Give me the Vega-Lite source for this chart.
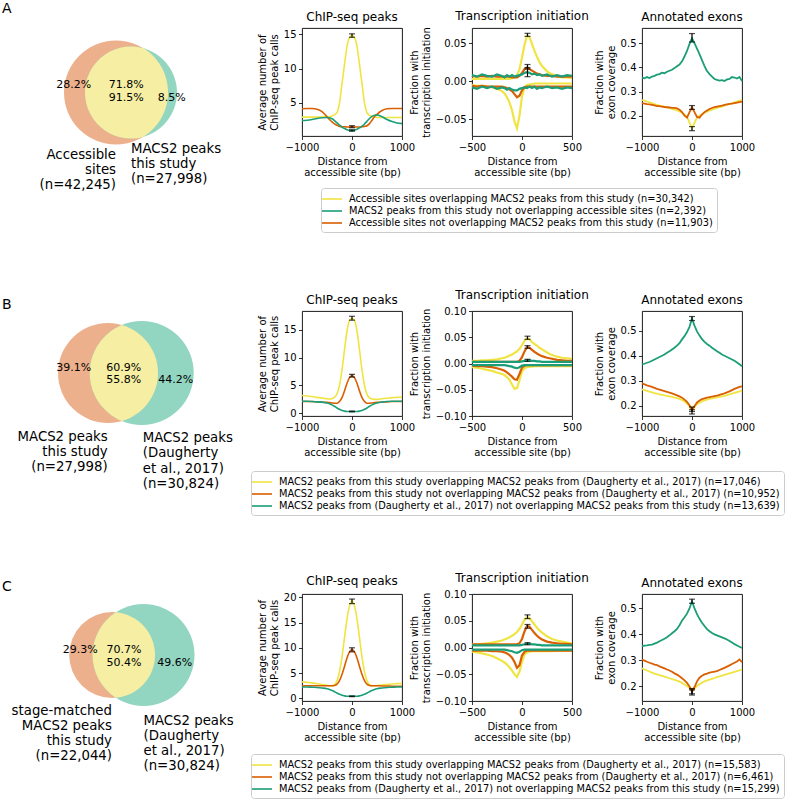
{
"$schema": "https://vega.github.io/schema/vega-lite/v6.json",
"padding": {"left": 1, "top": 1, "right": 0, "bottom": 0},
"background": "white",
"config": {
 "font": "DejaVu Sans",
 "view": {"stroke": "#000000", "strokeWidth": 0.9},
 "axis": {"domain": false, "grid": false, "tickCount": 20, "tickColor": "#000000", "tickSize": 3.5, "tickWidth": 0.8, "labelColor": "#000000", "labelFontSize": 10, "labelPadding": 2.5, "labelFlush": false, "labelOverlap": false, "titleColor": "#000000", "titleFontSize": 10, "titleFontWeight": "normal", "titlePadding": 4, "titleLineHeight": 11.5},
 "title": {"fontSize": 12, "fontWeight": "normal", "color": "#000000", "offset": 4, "frame": "group"},
 "legend": {"labelColor": "#000000"}
},
"datasets": {
 "A_lab": [
  {"k": "y", "label": "Accessible sites overlapping MACS2 peaks from this study (n=30,342)"},
  {"k": "t", "label": "MACS2 peaks from this study not overlapping accessible sites (n=2,392)"},
  {"k": "o", "label": "Accessible sites not overlapping MACS2 peaks from this study (n=11,903)"}
 ],
 "B_lab": [
  {"k": "y", "label": "MACS2 peaks from this study overlapping MACS2 peaks from (Daugherty et al., 2017) (n=17,046)"},
  {"k": "o", "label": "MACS2 peaks from this study not overlapping MACS2 peaks from (Daugherty et al., 2017) (n=10,952)"},
  {"k": "t", "label": "MACS2 peaks from (Daugherty et al., 2017) not overlapping MACS2 peaks from this study (n=13,639)"}
 ],
 "C_lab": [
  {"k": "y", "label": "MACS2 peaks from this study overlapping MACS2 peaks from (Daugherty et al., 2017) (n=15,583)"},
  {"k": "o", "label": "MACS2 peaks from this study not overlapping MACS2 peaks from (Daugherty et al., 2017) (n=6,461)"},
  {"k": "t", "label": "MACS2 peaks from (Daugherty et al., 2017) not overlapping MACS2 peaks from this study (n=15,299)"}
 ],
 "A_venn": [{"set": "L", "n": 42245, "x": 115, "y": 64.5}, {"set": "R", "n": 27998, "x": 130, "y": 64.5}],
 "B_venn": [{"set": "L", "n": 27998, "x": 107, "y": 62}, {"set": "R", "n": 30824, "x": 140.7, "y": 62}],
 "C_venn": [{"set": "L", "n": 22044, "x": 111.2, "y": 61}, {"set": "R", "n": 30824, "x": 142.5, "y": 61}],
 "A_vtext": [
  {"k": "pct", "x": 72.8, "y": 57.3, "t": "28.2%"},
  {"k": "pct", "x": 125.3, "y": 57.3, "t": "71.8%"},
  {"k": "pct", "x": 125.3, "y": 70.3, "t": "91.5%"},
  {"k": "pct", "x": 170.8, "y": 70.3, "t": "8.5%"},
  {"k": "L", "x": 115, "y": 120.3, "t": "Accessible\nsites\n(n=42,245)"},
  {"k": "R", "x": 130, "y": 114.3, "t": "MACS2 peaks\nthis study\n(n=27,998)"},
  {"k": "letter", "x": 1, "y": -15.1, "t": "A"}
 ],
 "B_vtext": [
  {"k": "pct", "x": 72.8, "y": 56.7, "t": "39.1%"},
  {"k": "pct", "x": 122.7, "y": 56.7, "t": "60.9%"},
  {"k": "pct", "x": 122.7, "y": 69, "t": "55.8%"},
  {"k": "pct", "x": 174.7, "y": 69, "t": "44.2%"},
  {"k": "L", "x": 106.7, "y": 118.6, "t": "MACS2 peaks\nthis study\n(n=27,998)"},
  {"k": "R", "x": 141.7, "y": 120, "t": "MACS2 peaks\n(Daugherty\net al., 2017)\n(n=30,824)"},
  {"k": "letter", "x": 1, "y": -2.1, "t": "B"}
 ],
 "C_vtext": [
  {"k": "pct", "x": 79.2, "y": 56.3, "t": "29.3%"},
  {"k": "pct", "x": 123, "y": 56.3, "t": "70.7%"},
  {"k": "pct", "x": 123, "y": 69.3, "t": "50.4%"},
  {"k": "pct", "x": 173.8, "y": 69.3, "t": "49.6%"},
  {"k": "L", "x": 111, "y": 110.3, "t": "stage-matched\nMACS2 peaks\nthis study\n(n=22,044)"},
  {"k": "R", "x": 142.5, "y": 120.3, "t": "MACS2 peaks\n(Daugherty\net al., 2017)\n(n=30,824)"},
  {"k": "letter", "x": 1, "y": -2.8, "t": "C"}
 ],
 "A_err": [
  {"p": "chip", "x": 0, "lo": 14.55, "hi": 15.05}, {"p": "chip", "x": 0, "lo": 1.4, "hi": 1.7}, {"p": "chip", "x": 0, "lo": 0.9, "hi": 1.1},
  {"p": "tss", "x": 55, "lo": 0.059, "hi": 0.063}, {"p": "tss", "x": 55, "lo": 0.016, "hi": 0.022}, {"p": "tss", "x": 55, "lo": 0.006, "hi": 0.018},
  {"p": "exon", "x": 0, "lo": 0.505, "hi": 0.54}, {"p": "exon", "x": 0, "lo": 0.226, "hi": 0.242}, {"p": "exon", "x": 0, "lo": 0.138, "hi": 0.155}
 ],
 "B_err": [
  {"p": "chip", "x": 0, "lo": 16.75, "hi": 17.45}, {"p": "chip", "x": 0, "lo": 6.5, "hi": 7.0}, {"p": "chip", "x": 0, "lo": 0.25, "hi": 0.38},
  {"p": "tss", "x": 55, "lo": 0.046, "hi": 0.052}, {"p": "tss", "x": 55, "lo": 0.029, "hi": 0.034}, {"p": "tss", "x": 55, "lo": 0.004, "hi": 0.008},
  {"p": "exon", "x": 0, "lo": 0.54, "hi": 0.556}, {"p": "exon", "x": 0, "lo": 0.178, "hi": 0.196}, {"p": "exon", "x": 0, "lo": 0.168, "hi": 0.185}
 ],
 "C_err": [
  {"p": "chip", "x": 0, "lo": 18.75, "hi": 19.65}, {"p": "chip", "x": 0, "lo": 9.2, "hi": 10.0}, {"p": "chip", "x": 0, "lo": 0.33, "hi": 0.48},
  {"p": "tss", "x": 55, "lo": 0.054, "hi": 0.061}, {"p": "tss", "x": 55, "lo": 0.036, "hi": 0.043}, {"p": "tss", "x": 55, "lo": 0.005, "hi": 0.009},
  {"p": "exon", "x": 0, "lo": 0.52, "hi": 0.536}, {"p": "exon", "x": 0, "lo": 0.165, "hi": 0.185}, {"p": "exon", "x": 0, "lo": 0.17, "hi": 0.19}
 ],
 "A_chip": [
  {"x": -1000, "y": 2.95, "o": 4.15, "t": 2.45}, {"x": -900, "y": 2.95, "o": 4.2, "t": 2.5}, {"x": -800, "y": 2.95, "o": 4.2, "t": 2.6},
  {"x": -700, "y": 2.95, "o": 4.1, "t": 2.75}, {"x": -600, "y": 2.95, "o": 3.75, "t": 2.85}, {"x": -500, "y": 3.0, "o": 3.0, "t": 2.9},
  {"x": -450, "y": 3.0, "o": 2.6, "t": 2.85}, {"x": -400, "y": 3.1, "o": 2.25, "t": 2.7}, {"x": -350, "y": 3.3, "o": 1.95, "t": 2.45},
  {"x": -300, "y": 3.6, "o": 1.75, "t": 2.1}, {"x": -250, "y": 5.0, "o": 1.6, "t": 1.8}, {"x": -200, "y": 7.8, "o": 1.55, "t": 1.5},
  {"x": -150, "y": 10.6, "o": 1.55, "t": 1.28}, {"x": -100, "y": 13.2, "o": 1.5, "t": 1.12}, {"x": -50, "y": 14.5, "o": 1.5, "t": 1.02},
  {"x": 0, "y": 14.8, "o": 1.55, "t": 1.0}, {"x": 50, "y": 14.5, "o": 1.5, "t": 1.05}, {"x": 100, "y": 13.2, "o": 1.5, "t": 1.18},
  {"x": 150, "y": 10.6, "o": 1.5, "t": 1.38}, {"x": 200, "y": 7.8, "o": 1.55, "t": 1.62}, {"x": 250, "y": 5.0, "o": 1.6, "t": 1.95},
  {"x": 300, "y": 3.6, "o": 1.7, "t": 2.35}, {"x": 350, "y": 3.2, "o": 2.0, "t": 2.75}, {"x": 400, "y": 3.05, "o": 2.5, "t": 3.05},
  {"x": 450, "y": 2.95, "o": 3.0, "t": 3.22}, {"x": 500, "y": 2.9, "o": 3.35, "t": 3.25}, {"x": 600, "y": 2.9, "o": 3.9, "t": 3.0},
  {"x": 700, "y": 2.9, "o": 4.15, "t": 2.6}, {"x": 800, "y": 2.9, "o": 4.2, "t": 2.3}, {"x": 900, "y": 2.9, "o": 4.2, "t": 2.1},
  {"x": 1000, "y": 2.9, "o": 4.2, "t": 2.0}
 ],
 "B_chip": [
  {"x": -1000, "y": 3.2, "o": 2.1, "t": 2.15}, {"x": -900, "y": 3.1, "o": 2.1, "t": 2.15}, {"x": -800, "y": 3.0, "o": 2.1, "t": 2.1},
  {"x": -700, "y": 2.85, "o": 2.05, "t": 2.05}, {"x": -600, "y": 2.75, "o": 2.0, "t": 2.0}, {"x": -500, "y": 2.6, "o": 1.95, "t": 1.85},
  {"x": -450, "y": 2.55, "o": 1.9, "t": 1.7}, {"x": -400, "y": 2.6, "o": 1.85, "t": 1.5}, {"x": -350, "y": 2.9, "o": 1.8, "t": 1.25},
  {"x": -300, "y": 3.5, "o": 1.8, "t": 0.95}, {"x": -250, "y": 5.0, "o": 2.1, "t": 0.7}, {"x": -200, "y": 7.8, "o": 2.8, "t": 0.5},
  {"x": -150, "y": 11.4, "o": 4.0, "t": 0.38}, {"x": -100, "y": 14.8, "o": 5.4, "t": 0.32}, {"x": -50, "y": 16.7, "o": 6.4, "t": 0.3},
  {"x": 0, "y": 17.1, "o": 6.75, "t": 0.3}, {"x": 50, "y": 16.7, "o": 6.4, "t": 0.3}, {"x": 100, "y": 14.8, "o": 5.4, "t": 0.32},
  {"x": 150, "y": 11.4, "o": 4.0, "t": 0.38}, {"x": 200, "y": 7.8, "o": 2.8, "t": 0.5}, {"x": 250, "y": 5.0, "o": 2.1, "t": 0.7},
  {"x": 300, "y": 3.4, "o": 1.8, "t": 0.95}, {"x": 350, "y": 2.75, "o": 1.8, "t": 1.25}, {"x": 400, "y": 2.55, "o": 1.85, "t": 1.5},
  {"x": 450, "y": 2.5, "o": 1.9, "t": 1.7}, {"x": 500, "y": 2.5, "o": 1.95, "t": 1.85}, {"x": 600, "y": 2.6, "o": 2.0, "t": 2.0},
  {"x": 700, "y": 2.7, "o": 2.05, "t": 2.1}, {"x": 800, "y": 2.8, "o": 2.1, "t": 2.15}, {"x": 900, "y": 2.85, "o": 2.1, "t": 2.15},
  {"x": 1000, "y": 2.9, "o": 2.1, "t": 2.15}
 ],
 "C_chip": [
  {"x": -1000, "y": 3.25, "o": 2.5, "t": 2.25}, {"x": -900, "y": 3.15, "o": 2.5, "t": 2.25}, {"x": -800, "y": 3.05, "o": 2.5, "t": 2.2},
  {"x": -700, "y": 2.9, "o": 2.5, "t": 2.15}, {"x": -600, "y": 2.75, "o": 2.5, "t": 2.05}, {"x": -500, "y": 2.6, "o": 2.5, "t": 1.9},
  {"x": -450, "y": 2.5, "o": 2.5, "t": 1.75}, {"x": -400, "y": 2.5, "o": 2.5, "t": 1.55}, {"x": -350, "y": 2.7, "o": 2.55, "t": 1.3},
  {"x": -300, "y": 3.5, "o": 2.8, "t": 1.05}, {"x": -250, "y": 5.3, "o": 3.5, "t": 0.8}, {"x": -200, "y": 8.2, "o": 4.7, "t": 0.6},
  {"x": -150, "y": 12.0, "o": 6.3, "t": 0.48}, {"x": -100, "y": 15.7, "o": 8.0, "t": 0.42}, {"x": -50, "y": 18.3, "o": 9.2, "t": 0.4},
  {"x": 0, "y": 19.2, "o": 9.6, "t": 0.4}, {"x": 50, "y": 18.3, "o": 9.2, "t": 0.4}, {"x": 100, "y": 15.7, "o": 8.0, "t": 0.42},
  {"x": 150, "y": 12.0, "o": 6.3, "t": 0.48}, {"x": 200, "y": 8.2, "o": 4.7, "t": 0.6}, {"x": 250, "y": 5.3, "o": 3.5, "t": 0.8},
  {"x": 300, "y": 3.5, "o": 2.8, "t": 1.05}, {"x": 350, "y": 2.7, "o": 2.55, "t": 1.3}, {"x": 400, "y": 2.5, "o": 2.5, "t": 1.55},
  {"x": 450, "y": 2.5, "o": 2.5, "t": 1.75}, {"x": 500, "y": 2.55, "o": 2.5, "t": 1.9}, {"x": 600, "y": 2.65, "o": 2.45, "t": 2.05},
  {"x": 700, "y": 2.75, "o": 2.45, "t": 2.15}, {"x": 800, "y": 2.85, "o": 2.4, "t": 2.2}, {"x": 900, "y": 2.9, "o": 2.4, "t": 2.25},
  {"x": 1000, "y": 2.95, "o": 2.4, "t": 2.25}
 ],
 "A_tss": [
  {"x": -500, "st": "+", "y": 0.003, "o": 0.007, "t": 0.008}, {"x": -450, "st": "+", "y": 0.003, "o": 0.006, "t": 0.006},
  {"x": -400, "st": "+", "y": 0.003, "o": 0.007, "t": 0.009}, {"x": -350, "st": "+", "y": 0.003, "o": 0.006, "t": 0.007},
  {"x": -300, "st": "+", "y": 0.003, "o": 0.007, "t": 0.006}, {"x": -250, "st": "+", "y": 0.003, "o": 0.006, "t": 0.009},
  {"x": -200, "st": "+", "y": 0.003, "o": 0.006, "t": 0.007}, {"x": -175, "st": "+", "y": 0.003, "o": 0.006, "t": 0.005},
  {"x": -150, "st": "+", "y": 0.003, "o": 0.006, "t": 0.008}, {"x": -125, "st": "+", "y": 0.003, "o": 0.006, "t": 0.006},
  {"x": -100, "st": "+", "y": 0.004, "o": 0.005, "t": 0.008}, {"x": -75, "st": "+", "y": 0.005, "o": 0.005, "t": 0.006},
  {"x": -50, "st": "+", "y": 0.008, "o": 0.005, "t": 0.007}, {"x": -25, "st": "+", "y": 0.016, "o": 0.007, "t": 0.008},
  {"x": 0, "st": "+", "y": 0.031, "o": 0.011, "t": 0.009}, {"x": 25, "st": "+", "y": 0.048, "o": 0.016, "t": 0.011},
  {"x": 50, "st": "+", "y": 0.06, "o": 0.018, "t": 0.012}, {"x": 75, "st": "+", "y": 0.058, "o": 0.016, "t": 0.011},
  {"x": 100, "st": "+", "y": 0.049, "o": 0.014, "t": 0.009}, {"x": 125, "st": "+", "y": 0.04, "o": 0.012, "t": 0.01},
  {"x": 150, "st": "+", "y": 0.032, "o": 0.01, "t": 0.008}, {"x": 175, "st": "+", "y": 0.025, "o": 0.009, "t": 0.009},
  {"x": 200, "st": "+", "y": 0.02, "o": 0.008, "t": 0.007}, {"x": 250, "st": "+", "y": 0.013, "o": 0.007, "t": 0.009},
  {"x": 300, "st": "+", "y": 0.009, "o": 0.007, "t": 0.006}, {"x": 350, "st": "+", "y": 0.007, "o": 0.006, "t": 0.008},
  {"x": 400, "st": "+", "y": 0.005, "o": 0.006, "t": 0.006}, {"x": 450, "st": "+", "y": 0.005, "o": 0.006, "t": 0.008},
  {"x": 500, "st": "+", "y": 0.004, "o": 0.006, "t": 0.007},
  {"x": -500, "st": "-", "y": -0.005, "o": -0.006, "t": -0.008}, {"x": -450, "st": "-", "y": -0.006, "o": -0.007, "t": -0.01},
  {"x": -400, "st": "-", "y": -0.006, "o": -0.006, "t": -0.007}, {"x": -350, "st": "-", "y": -0.007, "o": -0.007, "t": -0.009},
  {"x": -300, "st": "-", "y": -0.008, "o": -0.007, "t": -0.007}, {"x": -250, "st": "-", "y": -0.01, "o": -0.007, "t": -0.01},
  {"x": -200, "st": "-", "y": -0.013, "o": -0.007, "t": -0.008}, {"x": -175, "st": "-", "y": -0.016, "o": -0.008, "t": -0.009},
  {"x": -150, "st": "-", "y": -0.021, "o": -0.009, "t": -0.011}, {"x": -125, "st": "-", "y": -0.028, "o": -0.011, "t": -0.009},
  {"x": -100, "st": "-", "y": -0.038, "o": -0.013, "t": -0.011}, {"x": -75, "st": "-", "y": -0.053, "o": -0.017, "t": -0.012},
  {"x": -50, "st": "-", "y": -0.062, "o": -0.021, "t": -0.012}, {"x": -25, "st": "-", "y": -0.045, "o": -0.019, "t": -0.01},
  {"x": 0, "st": "-", "y": -0.02, "o": -0.012, "t": -0.009}, {"x": 25, "st": "-", "y": -0.008, "o": -0.008, "t": -0.008},
  {"x": 50, "st": "-", "y": -0.005, "o": -0.007, "t": -0.009}, {"x": 75, "st": "-", "y": -0.004, "o": -0.007, "t": -0.007},
  {"x": 100, "st": "-", "y": -0.004, "o": -0.007, "t": -0.009}, {"x": 125, "st": "-", "y": -0.003, "o": -0.007, "t": -0.007},
  {"x": 150, "st": "-", "y": -0.003, "o": -0.007, "t": -0.01}, {"x": 175, "st": "-", "y": -0.003, "o": -0.007, "t": -0.008},
  {"x": 200, "st": "-", "y": -0.003, "o": -0.007, "t": -0.009}, {"x": 250, "st": "-", "y": -0.003, "o": -0.007, "t": -0.007},
  {"x": 300, "st": "-", "y": -0.003, "o": -0.007, "t": -0.009}, {"x": 350, "st": "-", "y": -0.003, "o": -0.007, "t": -0.008},
  {"x": 400, "st": "-", "y": -0.003, "o": -0.007, "t": -0.01}, {"x": 450, "st": "-", "y": -0.003, "o": -0.007, "t": -0.008},
  {"x": 500, "st": "-", "y": -0.003, "o": -0.007, "t": -0.009}
 ],
 "B_tss": [
  {"x": -500, "st": "+", "y": 0.005, "o": 0.003, "t": 0.003}, {"x": -450, "st": "+", "y": 0.005, "o": 0.003, "t": 0.003},
  {"x": -400, "st": "+", "y": 0.006, "o": 0.003, "t": 0.003}, {"x": -350, "st": "+", "y": 0.006, "o": 0.003, "t": 0.003},
  {"x": -300, "st": "+", "y": 0.007, "o": 0.003, "t": 0.003}, {"x": -250, "st": "+", "y": 0.008, "o": 0.003, "t": 0.003},
  {"x": -200, "st": "+", "y": 0.01, "o": 0.003, "t": 0.003}, {"x": -175, "st": "+", "y": 0.011, "o": 0.003, "t": 0.003},
  {"x": -150, "st": "+", "y": 0.013, "o": 0.003, "t": 0.003}, {"x": -125, "st": "+", "y": 0.015, "o": 0.003, "t": 0.003},
  {"x": -100, "st": "+", "y": 0.017, "o": 0.003, "t": 0.003}, {"x": -75, "st": "+", "y": 0.02, "o": 0.003, "t": 0.003},
  {"x": -50, "st": "+", "y": 0.023, "o": 0.003, "t": 0.003}, {"x": -25, "st": "+", "y": 0.028, "o": 0.005, "t": 0.003},
  {"x": 0, "st": "+", "y": 0.035, "o": 0.012, "t": 0.004}, {"x": 25, "st": "+", "y": 0.043, "o": 0.023, "t": 0.005},
  {"x": 50, "st": "+", "y": 0.048, "o": 0.031, "t": 0.006}, {"x": 75, "st": "+", "y": 0.046, "o": 0.03, "t": 0.006},
  {"x": 100, "st": "+", "y": 0.041, "o": 0.026, "t": 0.005}, {"x": 125, "st": "+", "y": 0.037, "o": 0.022, "t": 0.005},
  {"x": 150, "st": "+", "y": 0.034, "o": 0.019, "t": 0.004}, {"x": 175, "st": "+", "y": 0.03, "o": 0.016, "t": 0.004},
  {"x": 200, "st": "+", "y": 0.027, "o": 0.014, "t": 0.003}, {"x": 250, "st": "+", "y": 0.021, "o": 0.011, "t": 0.003},
  {"x": 300, "st": "+", "y": 0.016, "o": 0.009, "t": 0.003}, {"x": 350, "st": "+", "y": 0.013, "o": 0.007, "t": 0.003},
  {"x": 400, "st": "+", "y": 0.011, "o": 0.006, "t": 0.003}, {"x": 450, "st": "+", "y": 0.01, "o": 0.005, "t": 0.003},
  {"x": 500, "st": "+", "y": 0.009, "o": 0.005, "t": 0.003},
  {"x": -500, "st": "-", "y": -0.007, "o": -0.004, "t": -0.003}, {"x": -450, "st": "-", "y": -0.008, "o": -0.005, "t": -0.003},
  {"x": -400, "st": "-", "y": -0.01, "o": -0.005, "t": -0.003}, {"x": -350, "st": "-", "y": -0.012, "o": -0.006, "t": -0.003},
  {"x": -300, "st": "-", "y": -0.014, "o": -0.007, "t": -0.003}, {"x": -250, "st": "-", "y": -0.017, "o": -0.009, "t": -0.003},
  {"x": -200, "st": "-", "y": -0.02, "o": -0.012, "t": -0.003}, {"x": -175, "st": "-", "y": -0.022, "o": -0.014, "t": -0.003},
  {"x": -150, "st": "-", "y": -0.026, "o": -0.017, "t": -0.004}, {"x": -125, "st": "-", "y": -0.031, "o": -0.021, "t": -0.005},
  {"x": -100, "st": "-", "y": -0.04, "o": -0.025, "t": -0.006}, {"x": -75, "st": "-", "y": -0.048, "o": -0.03, "t": -0.008},
  {"x": -50, "st": "-", "y": -0.047, "o": -0.031, "t": -0.009}, {"x": -25, "st": "-", "y": -0.032, "o": -0.02, "t": -0.007},
  {"x": 0, "st": "-", "y": -0.015, "o": -0.008, "t": -0.004}, {"x": 25, "st": "-", "y": -0.009, "o": -0.004, "t": -0.003},
  {"x": 50, "st": "-", "y": -0.007, "o": -0.003, "t": -0.003}, {"x": 75, "st": "-", "y": -0.006, "o": -0.003, "t": -0.003},
  {"x": 100, "st": "-", "y": -0.006, "o": -0.003, "t": -0.003}, {"x": 125, "st": "-", "y": -0.005, "o": -0.003, "t": -0.003},
  {"x": 150, "st": "-", "y": -0.005, "o": -0.003, "t": -0.003}, {"x": 175, "st": "-", "y": -0.005, "o": -0.003, "t": -0.003},
  {"x": 200, "st": "-", "y": -0.005, "o": -0.003, "t": -0.003}, {"x": 250, "st": "-", "y": -0.005, "o": -0.003, "t": -0.003},
  {"x": 300, "st": "-", "y": -0.005, "o": -0.003, "t": -0.003}, {"x": 350, "st": "-", "y": -0.005, "o": -0.003, "t": -0.003},
  {"x": 400, "st": "-", "y": -0.005, "o": -0.003, "t": -0.003}, {"x": 450, "st": "-", "y": -0.005, "o": -0.003, "t": -0.003},
  {"x": 500, "st": "-", "y": -0.005, "o": -0.003, "t": -0.003}
 ],
 "C_tss": [
  {"x": -500, "st": "+", "y": 0.006, "o": 0.006, "t": 0.004}, {"x": -450, "st": "+", "y": 0.006, "o": 0.006, "t": 0.004},
  {"x": -400, "st": "+", "y": 0.007, "o": 0.006, "t": 0.004}, {"x": -350, "st": "+", "y": 0.008, "o": 0.006, "t": 0.004},
  {"x": -300, "st": "+", "y": 0.009, "o": 0.006, "t": 0.004}, {"x": -250, "st": "+", "y": 0.011, "o": 0.006, "t": 0.004},
  {"x": -200, "st": "+", "y": 0.013, "o": 0.006, "t": 0.004}, {"x": -175, "st": "+", "y": 0.015, "o": 0.006, "t": 0.004},
  {"x": -150, "st": "+", "y": 0.017, "o": 0.006, "t": 0.004}, {"x": -125, "st": "+", "y": 0.019, "o": 0.006, "t": 0.004},
  {"x": -100, "st": "+", "y": 0.022, "o": 0.006, "t": 0.004}, {"x": -75, "st": "+", "y": 0.025, "o": 0.006, "t": 0.004},
  {"x": -50, "st": "+", "y": 0.029, "o": 0.006, "t": 0.004}, {"x": -25, "st": "+", "y": 0.035, "o": 0.008, "t": 0.004},
  {"x": 0, "st": "+", "y": 0.043, "o": 0.016, "t": 0.005}, {"x": 25, "st": "+", "y": 0.052, "o": 0.03, "t": 0.006},
  {"x": 50, "st": "+", "y": 0.057, "o": 0.04, "t": 0.007}, {"x": 75, "st": "+", "y": 0.055, "o": 0.039, "t": 0.007},
  {"x": 100, "st": "+", "y": 0.049, "o": 0.033, "t": 0.006}, {"x": 125, "st": "+", "y": 0.043, "o": 0.027, "t": 0.006},
  {"x": 150, "st": "+", "y": 0.037, "o": 0.022, "t": 0.005}, {"x": 175, "st": "+", "y": 0.032, "o": 0.018, "t": 0.005},
  {"x": 200, "st": "+", "y": 0.028, "o": 0.015, "t": 0.004}, {"x": 250, "st": "+", "y": 0.021, "o": 0.011, "t": 0.004},
  {"x": 300, "st": "+", "y": 0.016, "o": 0.009, "t": 0.004}, {"x": 350, "st": "+", "y": 0.013, "o": 0.008, "t": 0.004},
  {"x": 400, "st": "+", "y": 0.011, "o": 0.007, "t": 0.004}, {"x": 450, "st": "+", "y": 0.009, "o": 0.007, "t": 0.004},
  {"x": 500, "st": "+", "y": 0.008, "o": 0.006, "t": 0.004},
  {"x": -500, "st": "-", "y": -0.008, "o": -0.006, "t": -0.004}, {"x": -450, "st": "-", "y": -0.009, "o": -0.006, "t": -0.004},
  {"x": -400, "st": "-", "y": -0.011, "o": -0.006, "t": -0.004}, {"x": -350, "st": "-", "y": -0.013, "o": -0.006, "t": -0.004},
  {"x": -300, "st": "-", "y": -0.016, "o": -0.007, "t": -0.004}, {"x": -250, "st": "-", "y": -0.02, "o": -0.007, "t": -0.004},
  {"x": -200, "st": "-", "y": -0.025, "o": -0.008, "t": -0.004}, {"x": -175, "st": "-", "y": -0.028, "o": -0.009, "t": -0.004},
  {"x": -150, "st": "-", "y": -0.032, "o": -0.011, "t": -0.005}, {"x": -125, "st": "-", "y": -0.037, "o": -0.014, "t": -0.006},
  {"x": -100, "st": "-", "y": -0.043, "o": -0.019, "t": -0.007}, {"x": -75, "st": "-", "y": -0.05, "o": -0.027, "t": -0.009},
  {"x": -50, "st": "-", "y": -0.055, "o": -0.038, "t": -0.01}, {"x": -25, "st": "-", "y": -0.045, "o": -0.033, "t": -0.008},
  {"x": 0, "st": "-", "y": -0.027, "o": -0.015, "t": -0.005}, {"x": 25, "st": "-", "y": -0.013, "o": -0.008, "t": -0.004},
  {"x": 50, "st": "-", "y": -0.009, "o": -0.006, "t": -0.004}, {"x": 75, "st": "-", "y": -0.008, "o": -0.006, "t": -0.004},
  {"x": 100, "st": "-", "y": -0.007, "o": -0.006, "t": -0.004}, {"x": 125, "st": "-", "y": -0.007, "o": -0.006, "t": -0.004},
  {"x": 150, "st": "-", "y": -0.007, "o": -0.006, "t": -0.004}, {"x": 175, "st": "-", "y": -0.007, "o": -0.006, "t": -0.004},
  {"x": 200, "st": "-", "y": -0.007, "o": -0.006, "t": -0.004}, {"x": 250, "st": "-", "y": -0.007, "o": -0.006, "t": -0.004},
  {"x": 300, "st": "-", "y": -0.007, "o": -0.006, "t": -0.004}, {"x": 350, "st": "-", "y": -0.006, "o": -0.006, "t": -0.004},
  {"x": 400, "st": "-", "y": -0.006, "o": -0.006, "t": -0.004}, {"x": 450, "st": "-", "y": -0.006, "o": -0.006, "t": -0.004},
  {"x": 500, "st": "-", "y": -0.006, "o": -0.006, "t": -0.004}
 ],
 "A_exon": [
  {"x": -1000, "y": 0.265, "o": 0.252, "t": 0.358}, {"x": -950, "y": 0.262, "o": 0.25, "t": 0.355}, {"x": -900, "y": 0.258, "o": 0.248, "t": 0.36},
  {"x": -850, "y": 0.255, "o": 0.247, "t": 0.356}, {"x": -800, "y": 0.252, "o": 0.245, "t": 0.362}, {"x": -750, "y": 0.248, "o": 0.243, "t": 0.365},
  {"x": -700, "y": 0.245, "o": 0.24, "t": 0.37}, {"x": -650, "y": 0.242, "o": 0.24, "t": 0.372}, {"x": -600, "y": 0.24, "o": 0.238, "t": 0.378},
  {"x": -550, "y": 0.237, "o": 0.236, "t": 0.376}, {"x": -500, "y": 0.234, "o": 0.235, "t": 0.382}, {"x": -450, "y": 0.232, "o": 0.234, "t": 0.386},
  {"x": -400, "y": 0.228, "o": 0.232, "t": 0.39}, {"x": -350, "y": 0.225, "o": 0.232, "t": 0.397}, {"x": -300, "y": 0.222, "o": 0.23, "t": 0.405},
  {"x": -250, "y": 0.218, "o": 0.225, "t": 0.412}, {"x": -200, "y": 0.212, "o": 0.215, "t": 0.425}, {"x": -150, "y": 0.205, "o": 0.2, "t": 0.445},
  {"x": -100, "y": 0.195, "o": 0.192, "t": 0.468}, {"x": -50, "y": 0.172, "o": 0.215, "t": 0.497}, {"x": 0, "y": 0.147, "o": 0.234, "t": 0.52},
  {"x": 50, "y": 0.17, "o": 0.215, "t": 0.5}, {"x": 100, "y": 0.192, "o": 0.195, "t": 0.478}, {"x": 150, "y": 0.2, "o": 0.192, "t": 0.455},
  {"x": 200, "y": 0.207, "o": 0.205, "t": 0.43}, {"x": 250, "y": 0.212, "o": 0.215, "t": 0.405}, {"x": 300, "y": 0.217, "o": 0.222, "t": 0.385},
  {"x": 350, "y": 0.222, "o": 0.228, "t": 0.372}, {"x": 400, "y": 0.225, "o": 0.232, "t": 0.362}, {"x": 450, "y": 0.228, "o": 0.236, "t": 0.352},
  {"x": 500, "y": 0.232, "o": 0.238, "t": 0.348}, {"x": 550, "y": 0.235, "o": 0.24, "t": 0.345}, {"x": 600, "y": 0.238, "o": 0.242, "t": 0.347},
  {"x": 650, "y": 0.242, "o": 0.245, "t": 0.344}, {"x": 700, "y": 0.245, "o": 0.247, "t": 0.35}, {"x": 750, "y": 0.248, "o": 0.249, "t": 0.352},
  {"x": 800, "y": 0.252, "o": 0.25, "t": 0.36}, {"x": 850, "y": 0.255, "o": 0.252, "t": 0.358}, {"x": 900, "y": 0.258, "o": 0.254, "t": 0.354},
  {"x": 950, "y": 0.262, "o": 0.256, "t": 0.36}, {"x": 1000, "y": 0.265, "o": 0.258, "t": 0.343}
 ],
 "B_exon": [
  {"x": -1000, "y": 0.266, "o": 0.29, "t": 0.365}, {"x": -950, "y": 0.263, "o": 0.286, "t": 0.368}, {"x": -900, "y": 0.26, "o": 0.282, "t": 0.372},
  {"x": -850, "y": 0.257, "o": 0.279, "t": 0.375}, {"x": -800, "y": 0.254, "o": 0.276, "t": 0.38}, {"x": -750, "y": 0.251, "o": 0.272, "t": 0.385},
  {"x": -700, "y": 0.249, "o": 0.268, "t": 0.39}, {"x": -650, "y": 0.246, "o": 0.265, "t": 0.395}, {"x": -600, "y": 0.244, "o": 0.262, "t": 0.4},
  {"x": -550, "y": 0.242, "o": 0.259, "t": 0.405}, {"x": -500, "y": 0.24, "o": 0.256, "t": 0.412}, {"x": -450, "y": 0.238, "o": 0.253, "t": 0.418},
  {"x": -400, "y": 0.236, "o": 0.25, "t": 0.425}, {"x": -350, "y": 0.233, "o": 0.246, "t": 0.432}, {"x": -300, "y": 0.231, "o": 0.242, "t": 0.44},
  {"x": -250, "y": 0.228, "o": 0.238, "t": 0.45}, {"x": -200, "y": 0.224, "o": 0.233, "t": 0.465}, {"x": -150, "y": 0.218, "o": 0.225, "t": 0.478},
  {"x": -100, "y": 0.21, "o": 0.216, "t": 0.494}, {"x": -50, "y": 0.198, "o": 0.203, "t": 0.515}, {"x": 0, "y": 0.18, "o": 0.185, "t": 0.548},
  {"x": 50, "y": 0.195, "o": 0.2, "t": 0.52}, {"x": 100, "y": 0.207, "o": 0.214, "t": 0.497}, {"x": 150, "y": 0.213, "o": 0.222, "t": 0.48},
  {"x": 200, "y": 0.218, "o": 0.227, "t": 0.466}, {"x": 250, "y": 0.222, "o": 0.23, "t": 0.455}, {"x": 300, "y": 0.225, "o": 0.233, "t": 0.447},
  {"x": 350, "y": 0.228, "o": 0.235, "t": 0.44}, {"x": 400, "y": 0.23, "o": 0.237, "t": 0.432}, {"x": 450, "y": 0.232, "o": 0.239, "t": 0.425},
  {"x": 500, "y": 0.234, "o": 0.241, "t": 0.418}, {"x": 550, "y": 0.236, "o": 0.244, "t": 0.412}, {"x": 600, "y": 0.238, "o": 0.247, "t": 0.405},
  {"x": 650, "y": 0.24, "o": 0.25, "t": 0.4}, {"x": 700, "y": 0.243, "o": 0.254, "t": 0.395}, {"x": 750, "y": 0.246, "o": 0.258, "t": 0.39},
  {"x": 800, "y": 0.249, "o": 0.263, "t": 0.385}, {"x": 850, "y": 0.252, "o": 0.268, "t": 0.38}, {"x": 900, "y": 0.255, "o": 0.272, "t": 0.373},
  {"x": 950, "y": 0.258, "o": 0.276, "t": 0.366}, {"x": 1000, "y": 0.262, "o": 0.278, "t": 0.358}
 ],
 "C_exon": [
  {"x": -1000, "y": 0.268, "o": 0.302, "t": 0.354}, {"x": -950, "y": 0.264, "o": 0.298, "t": 0.356}, {"x": -900, "y": 0.26, "o": 0.294, "t": 0.357},
  {"x": -850, "y": 0.256, "o": 0.29, "t": 0.359}, {"x": -800, "y": 0.252, "o": 0.287, "t": 0.36}, {"x": -750, "y": 0.248, "o": 0.283, "t": 0.364},
  {"x": -700, "y": 0.245, "o": 0.281, "t": 0.368}, {"x": -650, "y": 0.242, "o": 0.276, "t": 0.373}, {"x": -600, "y": 0.239, "o": 0.272, "t": 0.378},
  {"x": -550, "y": 0.236, "o": 0.268, "t": 0.383}, {"x": -500, "y": 0.233, "o": 0.264, "t": 0.389}, {"x": -450, "y": 0.23, "o": 0.26, "t": 0.396},
  {"x": -400, "y": 0.227, "o": 0.255, "t": 0.404}, {"x": -350, "y": 0.224, "o": 0.249, "t": 0.412}, {"x": -300, "y": 0.221, "o": 0.244, "t": 0.421},
  {"x": -250, "y": 0.217, "o": 0.238, "t": 0.435}, {"x": -200, "y": 0.212, "o": 0.23, "t": 0.453}, {"x": -150, "y": 0.206, "o": 0.222, "t": 0.466},
  {"x": -100, "y": 0.2, "o": 0.212, "t": 0.48}, {"x": -50, "y": 0.192, "o": 0.198, "t": 0.5}, {"x": 0, "y": 0.18, "o": 0.178, "t": 0.528},
  {"x": 50, "y": 0.19, "o": 0.196, "t": 0.5}, {"x": 100, "y": 0.2, "o": 0.218, "t": 0.478}, {"x": 150, "y": 0.207, "o": 0.232, "t": 0.46},
  {"x": 200, "y": 0.213, "o": 0.24, "t": 0.445}, {"x": 250, "y": 0.218, "o": 0.245, "t": 0.432}, {"x": 300, "y": 0.222, "o": 0.248, "t": 0.42},
  {"x": 350, "y": 0.225, "o": 0.252, "t": 0.412}, {"x": 400, "y": 0.228, "o": 0.254, "t": 0.405}, {"x": 450, "y": 0.231, "o": 0.256, "t": 0.4},
  {"x": 500, "y": 0.234, "o": 0.258, "t": 0.396}, {"x": 550, "y": 0.237, "o": 0.262, "t": 0.392}, {"x": 600, "y": 0.24, "o": 0.266, "t": 0.388},
  {"x": 650, "y": 0.243, "o": 0.27, "t": 0.384}, {"x": 700, "y": 0.246, "o": 0.275, "t": 0.38}, {"x": 750, "y": 0.249, "o": 0.28, "t": 0.374},
  {"x": 800, "y": 0.252, "o": 0.285, "t": 0.368}, {"x": 850, "y": 0.255, "o": 0.29, "t": 0.362}, {"x": 900, "y": 0.258, "o": 0.295, "t": 0.357},
  {"x": 950, "y": 0.261, "o": 0.303, "t": 0.352}, {"x": 1000, "y": 0.264, "o": 0.292, "t": 0.347}
 ]
},
"vconcat": [
 {
  "hconcat": [
   {
    "width": 231, "height": 108, "view": {"stroke": null},
    "encoding": {
     "x": {"field": "x", "type": "quantitative", "scale": {"domain": [0, 231], "nice": false, "zero": false}, "axis": null},
     "y": {"field": "y", "type": "quantitative", "scale": {"domain": [0, 108], "reverse": true, "nice": false, "zero": false}, "axis": null}
    },
    "layer": [
     {"data": {"name": "A_venn"}, "transform": [{"filter": "datum.set == 'L'"}], "mark": {"type": "point", "shape": "circle", "filled": true, "opacity": 1, "color": "#EDB08C", "strokeWidth": 0}, "encoding": {"size": {"field": "n", "type": "quantitative", "scale": {"domain": [27998, 42245], "range": [8464, 10816], "zero": false}, "legend": null}}},
     {"data": {"name": "A_venn"}, "transform": [{"filter": "datum.set == 'R'"}], "mark": {"type": "point", "shape": "circle", "filled": true, "opacity": 1, "color": "#92D5C1", "strokeWidth": 0}, "encoding": {"size": {"field": "n", "type": "quantitative", "scale": {"domain": [27998, 42245], "range": [8464, 10816], "zero": false}, "legend": null}}},
     {"data": {"name": "A_venn"}, "transform": [{"filter": "datum.set == 'L'"}], "mark": {"type": "point", "shape": "M0.521,-0.854 A1,1,0,0,1,0.521,0.854 A0.885,0.885,0,1,1,0.521,-0.854 Z", "filled": true, "opacity": 1, "color": "#F5EEA3", "strokeWidth": 0}, "encoding": {"size": {"field": "n", "type": "quantitative", "scale": {"domain": [27998, 42245], "range": [8464, 10816], "zero": false}, "legend": null}}},
     {"data": {"name": "A_vtext"}, "transform": [{"filter": "datum.k == 'pct'"}], "mark": {"type": "text", "fontSize": 11, "align": "center", "baseline": "middle", "color": "#000000"}, "encoding": {"text": {"field": "t"}}},
     {"data": {"name": "A_vtext"}, "transform": [{"filter": "datum.k == 'L'"}], "mark": {"type": "text", "fontSize": 13.3, "align": "right", "baseline": "top", "lineBreak": "\n", "lineHeight": 15, "color": "#000000"}, "encoding": {"text": {"field": "t"}}},
     {"data": {"name": "A_vtext"}, "transform": [{"filter": "datum.k == 'R'"}], "mark": {"type": "text", "fontSize": 13.3, "align": "left", "baseline": "top", "lineBreak": "\n", "lineHeight": 15, "color": "#000000"}, "encoding": {"text": {"field": "t"}}},
     {"data": {"name": "A_vtext"}, "transform": [{"filter": "datum.k == 'letter'"}], "mark": {"type": "text", "fontSize": 14, "align": "left", "baseline": "alphabetic", "color": "#000000"}, "encoding": {"text": {"field": "t"}}}
    ]
   },
   {
    "width": 100, "height": 108, "title": "ChIP-seq peaks",
    "layer": [
     {"data": {"name": "A_chip"}, "transform": [{"fold": ["y", "o", "t"], "as": ["k", "v"]}, {"lookup": "k", "from": {"data": {"name": "A_lab"}, "key": "k", "fields": ["label"]}}],
      "mark": {"type": "line", "strokeWidth": 1.6, "interpolate": "monotone"},
      "encoding": {
       "x": {"field": "x", "type": "quantitative", "scale": {"domain": [-1000, 1000], "nice": false, "zero": false}, "axis": {"values": [-1000, 0, 1000], "tickCount": 20, "format": "d", "labelOverlap": false, "title": ["Distance from", "accessible site (bp)"]}},
       "y": {"field": "v", "type": "quantitative", "scale": {"domain": [0.2, 15.9], "nice": false, "zero": false}, "axis": {"values": [5, 10, 15], "tickCount": 20, "format": "d", "labelOverlap": false, "title": ["Average number of", "ChIP-seq peak calls"]}},
       "color": {"field": "label", "type": "nominal", "scale": {"domain": ["Accessible sites overlapping MACS2 peaks from this study (n=30,342)", "MACS2 peaks from this study not overlapping accessible sites (n=2,392)", "Accessible sites not overlapping MACS2 peaks from this study (n=11,903)"], "range": ["#F0E442", "#1B9E77", "#D95F02"]},
        "legend": {"orient": "none", "legendX": 320, "legendY": 160, "direction": "vertical", "title": null, "symbolType": "M-1.67,0L1.67,0", "symbolStrokeWidth": 1.6, "symbolSize": 144, "labelFontSize": 9.8, "labelLimit": 1000, "labelOffset": 10, "rowPadding": 0, "padding": 4, "strokeColor": "#cccccc", "fillColor": "#ffffff", "cornerRadius": 3}}
      }},
     {"data": {"name": "A_err"}, "transform": [{"filter": "datum.p == 'chip'"}], "mark": {"type": "rule", "color": "#000000", "strokeWidth": 1.2},
      "encoding": {"x": {"field": "x", "type": "quantitative"}, "y": {"field": "lo", "type": "quantitative"}, "y2": {"field": "hi"}}},
     {"data": {"name": "A_err"}, "transform": [{"filter": "datum.p == 'chip'"}, {"fold": ["lo", "hi"], "as": ["e", "ev"]}], "mark": {"type": "tick", "orient": "horizontal", "size": 6, "thickness": 1.2, "color": "#000000"},
      "encoding": {"x": {"field": "x", "type": "quantitative"}, "y": {"field": "ev", "type": "quantitative"}}}
    ]
   },
   {
    "width": 100, "height": 108, "title": "Transcription initiation",
    "layer": [
     {"data": {"name": "A_tss"}, "transform": [{"fold": ["y", "o", "t"], "as": ["k", "v"]}, {"lookup": "k", "from": {"data": {"name": "A_lab"}, "key": "k", "fields": ["label"]}}],
      "mark": {"type": "line", "strokeWidth": 2.2},
      "encoding": {
       "x": {"field": "x", "type": "quantitative", "scale": {"domain": [-500, 500], "nice": false, "zero": false}, "axis": {"values": [-500, 0, 500], "tickCount": 20, "format": "d", "labelOverlap": false, "title": ["Distance from", "accessible site (bp)"]}},
       "y": {"field": "v", "type": "quantitative", "scale": {"domain": [-0.072, 0.07], "nice": false, "zero": false}, "axis": {"values": [-0.05, 0, 0.05], "tickCount": 20, "format": ".2f", "labelOverlap": false, "title": ["Fraction with", "transcription initiation"]}},
       "detail": {"field": "st", "type": "nominal"},
       "color": {"field": "label", "type": "nominal", "scale": {"domain": ["Accessible sites overlapping MACS2 peaks from this study (n=30,342)", "MACS2 peaks from this study not overlapping accessible sites (n=2,392)", "Accessible sites not overlapping MACS2 peaks from this study (n=11,903)"], "range": ["#F0E442", "#1B9E77", "#D95F02"]},
        "legend": {"orient": "none", "legendX": 320, "legendY": 160, "direction": "vertical", "title": null, "symbolType": "M-1.67,0L1.67,0", "symbolStrokeWidth": 1.6, "symbolSize": 144, "labelFontSize": 9.8, "labelLimit": 1000, "labelOffset": 10, "rowPadding": 0, "padding": 4, "strokeColor": "#cccccc", "fillColor": "#ffffff", "cornerRadius": 3}}
      }},
     {"mark": {"type": "rule", "strokeDash": [4, 3], "color": "#000000", "strokeWidth": 1}, "encoding": {"y": {"datum": 0}}},
     {"mark": {"type": "rule", "strokeDash": [4, 3], "color": "#555555", "strokeWidth": 1}, "encoding": {"x": {"datum": 0}}},
     {"data": {"name": "A_err"}, "transform": [{"filter": "datum.p == 'tss'"}], "mark": {"type": "rule", "color": "#000000", "strokeWidth": 1.2},
      "encoding": {"x": {"field": "x", "type": "quantitative"}, "y": {"field": "lo", "type": "quantitative"}, "y2": {"field": "hi"}}},
     {"data": {"name": "A_err"}, "transform": [{"filter": "datum.p == 'tss'"}, {"fold": ["lo", "hi"], "as": ["e", "ev"]}], "mark": {"type": "tick", "orient": "horizontal", "size": 6, "thickness": 1.2, "color": "#000000"},
      "encoding": {"x": {"field": "x", "type": "quantitative"}, "y": {"field": "ev", "type": "quantitative"}}}
    ]
   },
   {
    "width": 100, "height": 108, "title": "Annotated exons",
    "layer": [
     {"data": {"name": "A_exon"}, "transform": [{"fold": ["y", "o", "t"], "as": ["k", "v"]}, {"lookup": "k", "from": {"data": {"name": "A_lab"}, "key": "k", "fields": ["label"]}}],
      "mark": {"type": "line", "strokeWidth": 1.8},
      "encoding": {
       "x": {"field": "x", "type": "quantitative", "scale": {"domain": [-1000, 1000], "nice": false, "zero": false}, "axis": {"values": [-1000, 0, 1000], "tickCount": 20, "format": "d", "labelOverlap": false, "title": ["Distance from", "accessible site (bp)"]}},
       "y": {"field": "v", "type": "quantitative", "scale": {"domain": [0.116, 0.563], "nice": false, "zero": false}, "axis": {"values": [0.2, 0.3, 0.4, 0.5], "tickCount": 20, "format": ".1f", "labelOverlap": false, "title": ["Fraction with", "exon coverage"]}},
       "color": {"field": "label", "type": "nominal", "scale": {"domain": ["Accessible sites overlapping MACS2 peaks from this study (n=30,342)", "MACS2 peaks from this study not overlapping accessible sites (n=2,392)", "Accessible sites not overlapping MACS2 peaks from this study (n=11,903)"], "range": ["#F0E442", "#1B9E77", "#D95F02"]},
        "legend": {"orient": "none", "legendX": 320, "legendY": 160, "direction": "vertical", "title": null, "symbolType": "M-1.67,0L1.67,0", "symbolStrokeWidth": 1.6, "symbolSize": 144, "labelFontSize": 9.8, "labelLimit": 1000, "labelOffset": 10, "rowPadding": 0, "padding": 4, "strokeColor": "#cccccc", "fillColor": "#ffffff", "cornerRadius": 3}}
      }},
     {"data": {"name": "A_err"}, "transform": [{"filter": "datum.p == 'exon'"}], "mark": {"type": "rule", "color": "#000000", "strokeWidth": 1.2},
      "encoding": {"x": {"field": "x", "type": "quantitative"}, "y": {"field": "lo", "type": "quantitative"}, "y2": {"field": "hi"}}},
     {"data": {"name": "A_err"}, "transform": [{"filter": "datum.p == 'exon'"}, {"fold": ["lo", "hi"], "as": ["e", "ev"]}], "mark": {"type": "tick", "orient": "horizontal", "size": 6, "thickness": 1.2, "color": "#000000"},
      "encoding": {"x": {"field": "x", "type": "quantitative"}, "y": {"field": "ev", "type": "quantitative"}}}
    ]
   }
  ],
  "spacing": 70, "bounds": "flush"
 },
 {
  "hconcat": [
   {
    "width": 231, "height": 105, "view": {"stroke": null},
    "encoding": {
     "x": {"field": "x", "type": "quantitative", "scale": {"domain": [0, 231], "nice": false, "zero": false}, "axis": null},
     "y": {"field": "y", "type": "quantitative", "scale": {"domain": [0, 105], "reverse": true, "nice": false, "zero": false}, "axis": null}
    },
    "layer": [
     {"data": {"name": "B_venn"}, "transform": [{"filter": "datum.set == 'L'"}], "mark": {"type": "point", "shape": "circle", "filled": true, "opacity": 1, "color": "#EDB08C", "strokeWidth": 0}, "encoding": {"size": {"field": "n", "type": "quantitative", "scale": {"domain": [27998, 30824], "range": [10000, 10816], "zero": false}, "legend": null}}},
     {"data": {"name": "B_venn"}, "transform": [{"filter": "datum.set == 'R'"}], "mark": {"type": "point", "shape": "circle", "filled": true, "opacity": 1, "color": "#92D5C1", "strokeWidth": 0}, "encoding": {"size": {"field": "n", "type": "quantitative", "scale": {"domain": [27998, 30824], "range": [10000, 10816], "zero": false}, "legend": null}}},
     {"data": {"name": "B_venn"}, "transform": [{"filter": "datum.set == 'L'"}], "mark": {"type": "point", "shape": "M0.277,-0.961 A1,1,0,0,1,0.277,0.961 A1.04,1.04,0,0,1,0.277,-0.961 Z", "filled": true, "opacity": 1, "color": "#F5EEA3", "strokeWidth": 0}, "encoding": {"size": {"field": "n", "type": "quantitative", "scale": {"domain": [27998, 30824], "range": [10000, 10816], "zero": false}, "legend": null}}},
     {"data": {"name": "B_vtext"}, "transform": [{"filter": "datum.k == 'pct'"}], "mark": {"type": "text", "fontSize": 11, "align": "center", "baseline": "middle", "color": "#000000"}, "encoding": {"text": {"field": "t"}}},
     {"data": {"name": "B_vtext"}, "transform": [{"filter": "datum.k == 'L'"}], "mark": {"type": "text", "fontSize": 13.3, "align": "right", "baseline": "top", "lineBreak": "\n", "lineHeight": 15.3, "color": "#000000"}, "encoding": {"text": {"field": "t"}}},
     {"data": {"name": "B_vtext"}, "transform": [{"filter": "datum.k == 'R'"}], "mark": {"type": "text", "fontSize": 13.3, "align": "left", "baseline": "top", "lineBreak": "\n", "lineHeight": 15.3, "color": "#000000"}, "encoding": {"text": {"field": "t"}}},
     {"data": {"name": "B_vtext"}, "transform": [{"filter": "datum.k == 'letter'"}], "mark": {"type": "text", "fontSize": 14, "align": "left", "baseline": "alphabetic", "color": "#000000"}, "encoding": {"text": {"field": "t"}}}
    ]
   },
   {
    "width": 100, "height": 105, "title": "ChIP-seq peaks",
    "layer": [
     {"data": {"name": "B_chip"}, "transform": [{"fold": ["y", "o", "t"], "as": ["k", "v"]}, {"lookup": "k", "from": {"data": {"name": "B_lab"}, "key": "k", "fields": ["label"]}}],
      "mark": {"type": "line", "strokeWidth": 1.6, "interpolate": "monotone"},
      "encoding": {
       "x": {"field": "x", "type": "quantitative", "scale": {"domain": [-1000, 1000], "nice": false, "zero": false}, "axis": {"values": [-1000, 0, 1000], "tickCount": 20, "format": "d", "labelOverlap": false, "title": ["Distance from", "accessible site (bp)"]}},
       "y": {"field": "v", "type": "quantitative", "scale": {"domain": [-0.5, 18.4], "nice": false, "zero": false}, "axis": {"values": [0, 5, 10, 15], "tickCount": 20, "format": "d", "labelOverlap": false, "title": ["Average number of", "ChIP-seq peak calls"]}},
       "color": {"field": "label", "type": "nominal", "scale": {"domain": ["MACS2 peaks from this study overlapping MACS2 peaks from (Daugherty et al., 2017) (n=17,046)", "MACS2 peaks from this study not overlapping MACS2 peaks from (Daugherty et al., 2017) (n=10,952)", "MACS2 peaks from (Daugherty et al., 2017) not overlapping MACS2 peaks from this study (n=13,639)"], "range": ["#F0E442", "#D95F02", "#1B9E77"]},
        "legend": {"orient": "none", "legendX": 250, "legendY": 160, "direction": "vertical", "title": null, "symbolType": "M-1.67,0L1.67,0", "symbolStrokeWidth": 1.6, "symbolSize": 144, "labelFontSize": 9.8, "labelLimit": 1000, "labelOffset": 10, "rowPadding": 0, "padding": 4, "strokeColor": "#cccccc", "fillColor": "#ffffff", "cornerRadius": 3}}
      }},
     {"data": {"name": "B_err"}, "transform": [{"filter": "datum.p == 'chip'"}], "mark": {"type": "rule", "color": "#000000", "strokeWidth": 1.2},
      "encoding": {"x": {"field": "x", "type": "quantitative"}, "y": {"field": "lo", "type": "quantitative"}, "y2": {"field": "hi"}}},
     {"data": {"name": "B_err"}, "transform": [{"filter": "datum.p == 'chip'"}, {"fold": ["lo", "hi"], "as": ["e", "ev"]}], "mark": {"type": "tick", "orient": "horizontal", "size": 6, "thickness": 1.2, "color": "#000000"},
      "encoding": {"x": {"field": "x", "type": "quantitative"}, "y": {"field": "ev", "type": "quantitative"}}}
    ]
   },
   {
    "width": 100, "height": 105, "title": "Transcription initiation",
    "layer": [
     {"data": {"name": "B_tss"}, "transform": [{"fold": ["y", "o", "t"], "as": ["k", "v"]}, {"lookup": "k", "from": {"data": {"name": "B_lab"}, "key": "k", "fields": ["label"]}}],
      "mark": {"type": "line", "strokeWidth": 2.2},
      "encoding": {
       "x": {"field": "x", "type": "quantitative", "scale": {"domain": [-500, 500], "nice": false, "zero": false}, "axis": {"values": [-500, 0, 500], "tickCount": 20, "format": "d", "labelOverlap": false, "title": ["Distance from", "accessible site (bp)"]}},
       "y": {"field": "v", "type": "quantitative", "scale": {"domain": [-0.1, 0.1], "nice": false, "zero": false}, "axis": {"values": [-0.1, -0.05, 0, 0.05, 0.1], "tickCount": 20, "format": ".2f", "labelOverlap": false, "title": ["Fraction with", "transcription initiation"]}},
       "detail": {"field": "st", "type": "nominal"},
       "color": {"field": "label", "type": "nominal", "scale": {"domain": ["MACS2 peaks from this study overlapping MACS2 peaks from (Daugherty et al., 2017) (n=17,046)", "MACS2 peaks from this study not overlapping MACS2 peaks from (Daugherty et al., 2017) (n=10,952)", "MACS2 peaks from (Daugherty et al., 2017) not overlapping MACS2 peaks from this study (n=13,639)"], "range": ["#F0E442", "#D95F02", "#1B9E77"]},
        "legend": {"orient": "none", "legendX": 250, "legendY": 160, "direction": "vertical", "title": null, "symbolType": "M-1.67,0L1.67,0", "symbolStrokeWidth": 1.6, "symbolSize": 144, "labelFontSize": 9.8, "labelLimit": 1000, "labelOffset": 10, "rowPadding": 0, "padding": 4, "strokeColor": "#cccccc", "fillColor": "#ffffff", "cornerRadius": 3}}
      }},
     {"mark": {"type": "rule", "strokeDash": [4, 3], "color": "#000000", "strokeWidth": 1}, "encoding": {"y": {"datum": 0}}},
     {"mark": {"type": "rule", "strokeDash": [4, 3], "color": "#555555", "strokeWidth": 1}, "encoding": {"x": {"datum": 0}}},
     {"data": {"name": "B_err"}, "transform": [{"filter": "datum.p == 'tss'"}], "mark": {"type": "rule", "color": "#000000", "strokeWidth": 1.2},
      "encoding": {"x": {"field": "x", "type": "quantitative"}, "y": {"field": "lo", "type": "quantitative"}, "y2": {"field": "hi"}}},
     {"data": {"name": "B_err"}, "transform": [{"filter": "datum.p == 'tss'"}, {"fold": ["lo", "hi"], "as": ["e", "ev"]}], "mark": {"type": "tick", "orient": "horizontal", "size": 6, "thickness": 1.2, "color": "#000000"},
      "encoding": {"x": {"field": "x", "type": "quantitative"}, "y": {"field": "ev", "type": "quantitative"}}}
    ]
   },
   {
    "width": 100, "height": 105, "title": "Annotated exons",
    "layer": [
     {"data": {"name": "B_exon"}, "transform": [{"fold": ["y", "o", "t"], "as": ["k", "v"]}, {"lookup": "k", "from": {"data": {"name": "B_lab"}, "key": "k", "fields": ["label"]}}],
      "mark": {"type": "line", "strokeWidth": 1.8},
      "encoding": {
       "x": {"field": "x", "type": "quantitative", "scale": {"domain": [-1000, 1000], "nice": false, "zero": false}, "axis": {"values": [-1000, 0, 1000], "tickCount": 20, "format": "d", "labelOverlap": false, "title": ["Distance from", "accessible site (bp)"]}},
       "y": {"field": "v", "type": "quantitative", "scale": {"domain": [0.16, 0.578], "nice": false, "zero": false}, "axis": {"values": [0.2, 0.3, 0.4, 0.5], "tickCount": 20, "format": ".1f", "labelOverlap": false, "title": ["Fraction with", "exon coverage"]}},
       "color": {"field": "label", "type": "nominal", "scale": {"domain": ["MACS2 peaks from this study overlapping MACS2 peaks from (Daugherty et al., 2017) (n=17,046)", "MACS2 peaks from this study not overlapping MACS2 peaks from (Daugherty et al., 2017) (n=10,952)", "MACS2 peaks from (Daugherty et al., 2017) not overlapping MACS2 peaks from this study (n=13,639)"], "range": ["#F0E442", "#D95F02", "#1B9E77"]},
        "legend": {"orient": "none", "legendX": 250, "legendY": 160, "direction": "vertical", "title": null, "symbolType": "M-1.67,0L1.67,0", "symbolStrokeWidth": 1.6, "symbolSize": 144, "labelFontSize": 9.8, "labelLimit": 1000, "labelOffset": 10, "rowPadding": 0, "padding": 4, "strokeColor": "#cccccc", "fillColor": "#ffffff", "cornerRadius": 3}}
      }},
     {"data": {"name": "B_err"}, "transform": [{"filter": "datum.p == 'exon'"}], "mark": {"type": "rule", "color": "#000000", "strokeWidth": 1.2},
      "encoding": {"x": {"field": "x", "type": "quantitative"}, "y": {"field": "lo", "type": "quantitative"}, "y2": {"field": "hi"}}},
     {"data": {"name": "B_err"}, "transform": [{"filter": "datum.p == 'exon'"}, {"fold": ["lo", "hi"], "as": ["e", "ev"]}], "mark": {"type": "tick", "orient": "horizontal", "size": 6, "thickness": 1.2, "color": "#000000"},
      "encoding": {"x": {"field": "x", "type": "quantitative"}, "y": {"field": "ev", "type": "quantitative"}}}
    ]
   }
  ],
  "spacing": 70, "bounds": "flush"
 },
 {
  "hconcat": [
   {
    "width": 231, "height": 107, "view": {"stroke": null},
    "encoding": {
     "x": {"field": "x", "type": "quantitative", "scale": {"domain": [0, 231], "nice": false, "zero": false}, "axis": null},
     "y": {"field": "y", "type": "quantitative", "scale": {"domain": [0, 107], "reverse": true, "nice": false, "zero": false}, "axis": null}
    },
    "layer": [
     {"data": {"name": "C_venn"}, "transform": [{"filter": "datum.set == 'L'"}], "mark": {"type": "point", "shape": "circle", "filled": true, "opacity": 1, "color": "#EDB08C", "strokeWidth": 0}, "encoding": {"size": {"field": "n", "type": "quantitative", "scale": {"domain": [22044, 30824], "range": [7396, 10404], "zero": false}, "legend": null}}},
     {"data": {"name": "C_venn"}, "transform": [{"filter": "datum.set == 'R'"}], "mark": {"type": "point", "shape": "circle", "filled": true, "opacity": 1, "color": "#92D5C1", "strokeWidth": 0}, "encoding": {"size": {"field": "n", "type": "quantitative", "scale": {"domain": [22044, 30824], "range": [7396, 10404], "zero": false}, "legend": null}}},
     {"data": {"name": "C_venn"}, "transform": [{"filter": "datum.set == 'L'"}], "mark": {"type": "point", "shape": "M0.085,-0.996 A1,1,0,0,1,0.085,0.996 A1.186,1.186,0,0,1,0.085,-0.996 Z", "filled": true, "opacity": 1, "color": "#F5EEA3", "strokeWidth": 0}, "encoding": {"size": {"field": "n", "type": "quantitative", "scale": {"domain": [22044, 30824], "range": [7396, 10404], "zero": false}, "legend": null}}},
     {"data": {"name": "C_vtext"}, "transform": [{"filter": "datum.k == 'pct'"}], "mark": {"type": "text", "fontSize": 11, "align": "center", "baseline": "middle", "color": "#000000"}, "encoding": {"text": {"field": "t"}}},
     {"data": {"name": "C_vtext"}, "transform": [{"filter": "datum.k == 'L'"}], "mark": {"type": "text", "fontSize": 13.3, "align": "right", "baseline": "top", "lineBreak": "\n", "lineHeight": 15, "color": "#000000"}, "encoding": {"text": {"field": "t"}}},
     {"data": {"name": "C_vtext"}, "transform": [{"filter": "datum.k == 'R'"}], "mark": {"type": "text", "fontSize": 13.3, "align": "left", "baseline": "top", "lineBreak": "\n", "lineHeight": 15, "color": "#000000"}, "encoding": {"text": {"field": "t"}}},
     {"data": {"name": "C_vtext"}, "transform": [{"filter": "datum.k == 'letter'"}], "mark": {"type": "text", "fontSize": 14, "align": "left", "baseline": "alphabetic", "color": "#000000"}, "encoding": {"text": {"field": "t"}}}
    ]
   },
   {
    "width": 100, "height": 107, "title": "ChIP-seq peaks",
    "layer": [
     {"data": {"name": "C_chip"}, "transform": [{"fold": ["y", "o", "t"], "as": ["k", "v"]}, {"lookup": "k", "from": {"data": {"name": "C_lab"}, "key": "k", "fields": ["label"]}}],
      "mark": {"type": "line", "strokeWidth": 1.6, "interpolate": "monotone"},
      "encoding": {
       "x": {"field": "x", "type": "quantitative", "scale": {"domain": [-1000, 1000], "nice": false, "zero": false}, "axis": {"values": [-1000, 0, 1000], "tickCount": 20, "format": "d", "labelOverlap": false, "title": ["Distance from", "accessible site (bp)"]}},
       "y": {"field": "v", "type": "quantitative", "scale": {"domain": [-0.53, 20.65], "nice": false, "zero": false}, "axis": {"values": [0, 5, 10, 15, 20], "tickCount": 20, "format": "d", "labelOverlap": false, "title": ["Average number of", "ChIP-seq peak calls"]}},
       "color": {"field": "label", "type": "nominal", "scale": {"domain": ["MACS2 peaks from this study overlapping MACS2 peaks from (Daugherty et al., 2017) (n=15,583)", "MACS2 peaks from this study not overlapping MACS2 peaks from (Daugherty et al., 2017) (n=6,461)", "MACS2 peaks from (Daugherty et al., 2017) not overlapping MACS2 peaks from this study (n=15,299)"], "range": ["#F0E442", "#D95F02", "#1B9E77"]},
        "legend": {"orient": "none", "legendX": 250, "legendY": 160, "direction": "vertical", "title": null, "symbolType": "M-1.67,0L1.67,0", "symbolStrokeWidth": 1.6, "symbolSize": 144, "labelFontSize": 9.8, "labelLimit": 1000, "labelOffset": 10, "rowPadding": 0, "padding": 4, "strokeColor": "#cccccc", "fillColor": "#ffffff", "cornerRadius": 3}}
      }},
     {"data": {"name": "C_err"}, "transform": [{"filter": "datum.p == 'chip'"}], "mark": {"type": "rule", "color": "#000000", "strokeWidth": 1.2},
      "encoding": {"x": {"field": "x", "type": "quantitative"}, "y": {"field": "lo", "type": "quantitative"}, "y2": {"field": "hi"}}},
     {"data": {"name": "C_err"}, "transform": [{"filter": "datum.p == 'chip'"}, {"fold": ["lo", "hi"], "as": ["e", "ev"]}], "mark": {"type": "tick", "orient": "horizontal", "size": 6, "thickness": 1.2, "color": "#000000"},
      "encoding": {"x": {"field": "x", "type": "quantitative"}, "y": {"field": "ev", "type": "quantitative"}}}
    ]
   },
   {
    "width": 100, "height": 107, "title": "Transcription initiation",
    "layer": [
     {"data": {"name": "C_tss"}, "transform": [{"fold": ["y", "o", "t"], "as": ["k", "v"]}, {"lookup": "k", "from": {"data": {"name": "C_lab"}, "key": "k", "fields": ["label"]}}],
      "mark": {"type": "line", "strokeWidth": 2.2},
      "encoding": {
       "x": {"field": "x", "type": "quantitative", "scale": {"domain": [-500, 500], "nice": false, "zero": false}, "axis": {"values": [-500, 0, 500], "tickCount": 20, "format": "d", "labelOverlap": false, "title": ["Distance from", "accessible site (bp)"]}},
       "y": {"field": "v", "type": "quantitative", "scale": {"domain": [-0.1, 0.1], "nice": false, "zero": false}, "axis": {"values": [-0.1, -0.05, 0, 0.05, 0.1], "tickCount": 20, "format": ".2f", "labelOverlap": false, "title": ["Fraction with", "transcription initiation"]}},
       "detail": {"field": "st", "type": "nominal"},
       "color": {"field": "label", "type": "nominal", "scale": {"domain": ["MACS2 peaks from this study overlapping MACS2 peaks from (Daugherty et al., 2017) (n=15,583)", "MACS2 peaks from this study not overlapping MACS2 peaks from (Daugherty et al., 2017) (n=6,461)", "MACS2 peaks from (Daugherty et al., 2017) not overlapping MACS2 peaks from this study (n=15,299)"], "range": ["#F0E442", "#D95F02", "#1B9E77"]},
        "legend": {"orient": "none", "legendX": 250, "legendY": 160, "direction": "vertical", "title": null, "symbolType": "M-1.67,0L1.67,0", "symbolStrokeWidth": 1.6, "symbolSize": 144, "labelFontSize": 9.8, "labelLimit": 1000, "labelOffset": 10, "rowPadding": 0, "padding": 4, "strokeColor": "#cccccc", "fillColor": "#ffffff", "cornerRadius": 3}}
      }},
     {"mark": {"type": "rule", "strokeDash": [4, 3], "color": "#000000", "strokeWidth": 1}, "encoding": {"y": {"datum": 0}}},
     {"mark": {"type": "rule", "strokeDash": [4, 3], "color": "#555555", "strokeWidth": 1}, "encoding": {"x": {"datum": 0}}},
     {"data": {"name": "C_err"}, "transform": [{"filter": "datum.p == 'tss'"}], "mark": {"type": "rule", "color": "#000000", "strokeWidth": 1.2},
      "encoding": {"x": {"field": "x", "type": "quantitative"}, "y": {"field": "lo", "type": "quantitative"}, "y2": {"field": "hi"}}},
     {"data": {"name": "C_err"}, "transform": [{"filter": "datum.p == 'tss'"}, {"fold": ["lo", "hi"], "as": ["e", "ev"]}], "mark": {"type": "tick", "orient": "horizontal", "size": 6, "thickness": 1.2, "color": "#000000"},
      "encoding": {"x": {"field": "x", "type": "quantitative"}, "y": {"field": "ev", "type": "quantitative"}}}
    ]
   },
   {
    "width": 100, "height": 107, "title": "Annotated exons",
    "layer": [
     {"data": {"name": "C_exon"}, "transform": [{"fold": ["y", "o", "t"], "as": ["k", "v"]}, {"lookup": "k", "from": {"data": {"name": "C_lab"}, "key": "k", "fields": ["label"]}}],
      "mark": {"type": "line", "strokeWidth": 1.8},
      "encoding": {
       "x": {"field": "x", "type": "quantitative", "scale": {"domain": [-1000, 1000], "nice": false, "zero": false}, "axis": {"values": [-1000, 0, 1000], "tickCount": 20, "format": "d", "labelOverlap": false, "title": ["Distance from", "accessible site (bp)"]}},
       "y": {"field": "v", "type": "quantitative", "scale": {"domain": [0.142, 0.556], "nice": false, "zero": false}, "axis": {"values": [0.2, 0.3, 0.4, 0.5], "tickCount": 20, "format": ".1f", "labelOverlap": false, "title": ["Fraction with", "exon coverage"]}},
       "color": {"field": "label", "type": "nominal", "scale": {"domain": ["MACS2 peaks from this study overlapping MACS2 peaks from (Daugherty et al., 2017) (n=15,583)", "MACS2 peaks from this study not overlapping MACS2 peaks from (Daugherty et al., 2017) (n=6,461)", "MACS2 peaks from (Daugherty et al., 2017) not overlapping MACS2 peaks from this study (n=15,299)"], "range": ["#F0E442", "#D95F02", "#1B9E77"]},
        "legend": {"orient": "none", "legendX": 250, "legendY": 160, "direction": "vertical", "title": null, "symbolType": "M-1.67,0L1.67,0", "symbolStrokeWidth": 1.6, "symbolSize": 144, "labelFontSize": 9.8, "labelLimit": 1000, "labelOffset": 10, "rowPadding": 0, "padding": 4, "strokeColor": "#cccccc", "fillColor": "#ffffff", "cornerRadius": 3}}
      }},
     {"data": {"name": "C_err"}, "transform": [{"filter": "datum.p == 'exon'"}], "mark": {"type": "rule", "color": "#000000", "strokeWidth": 1.2},
      "encoding": {"x": {"field": "x", "type": "quantitative"}, "y": {"field": "lo", "type": "quantitative"}, "y2": {"field": "hi"}}},
     {"data": {"name": "C_err"}, "transform": [{"filter": "datum.p == 'exon'"}, {"fold": ["lo", "hi"], "as": ["e", "ev"]}], "mark": {"type": "tick", "orient": "horizontal", "size": 6, "thickness": 1.2, "color": "#000000"},
      "encoding": {"x": {"field": "x", "type": "quantitative"}, "y": {"field": "ev", "type": "quantitative"}}}
    ]
   }
  ],
  "spacing": 70, "bounds": "flush"
 }
],
"spacing": 283,
"bounds": "flush",
"resolve": {"scale": {"color": "independent", "size": "independent"}}
}
